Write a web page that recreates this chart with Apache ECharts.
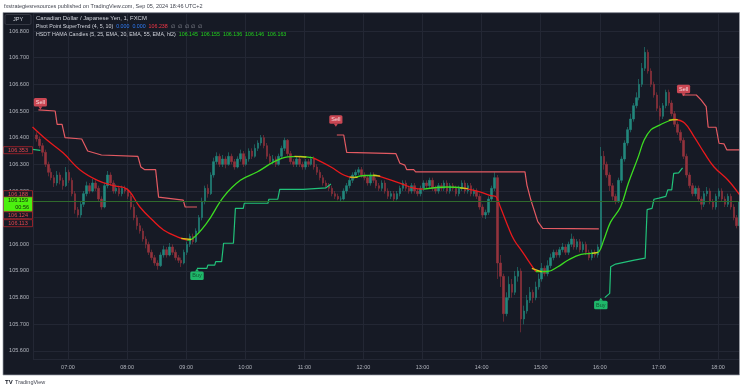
<!DOCTYPE html>
<html><head><meta charset="utf-8">
<script src="https://cdn.jsdelivr.net/npm/echarts@6/dist/echarts.min.js"></script>
<style>html,body{margin:0;padding:0;background:#fff;}#c{width:743px;height:390px;}</style>
</head><body><div id="c"></div>
<script>
// ---------- DATA ----------
const barStart = '06:27';   // first 3-minute bar
const barStepMin = 3;
const opens = [
106.41,106.395,106.37,106.345,106.30,106.27,106.25,106.23,106.26,106.24,
106.22,106.27,106.24,106.19,106.13,106.11,106.15,106.19,106.22,106.20,
106.23,106.21,106.17,106.14,106.22,106.26,106.23,106.20,106.21,106.19,
106.21,106.20,106.18,106.14,106.10,106.07,106.05,106.02,106.00,105.97,
105.95,105.93,105.92,105.96,105.98,105.96,105.99,105.97,105.95,105.94,
105.93,105.97,106.00,106.03,106.01,106.05,106.10,106.16,106.21,106.19,
106.26,106.31,106.33,106.30,106.32,106.30,106.33,106.31,106.29,106.32,
106.34,106.30,106.32,106.35,106.33,106.36,106.38,106.40,106.37,106.33,
106.31,106.32,106.30,106.33,106.36,106.39,106.34,106.31,106.30,106.32,
106.30,106.29,106.31,106.30,106.32,106.29,106.27,106.25,106.23,106.22,
106.21,106.19,106.18,106.17,106.17,106.20,106.22,106.24,106.26,106.27,
106.28,106.26,106.25,106.23,106.26,106.24,106.22,106.21,106.23,106.20,
106.18,106.19,106.17,106.19,106.21,106.23,106.21,106.20,106.22,106.20,
106.19,106.21,106.23,106.22,106.24,106.21,106.20,106.22,106.21,106.23,
106.20,106.22,106.21,106.19,106.21,106.23,106.20,106.22,106.19,106.20,
106.18,106.14,106.11,106.12,106.17,106.21,106.25,105.93,105.88,105.74,
105.80,105.85,105.82,105.88,105.90,105.72,105.75,105.79,105.82,105.80,
105.84,105.87,105.91,105.89,105.92,105.95,105.97,105.96,105.98,105.99,
105.97,106.00,106.02,105.99,106.01,105.98,106.00,105.97,105.95,105.97,
105.96,105.99,106.33,106.30,106.26,106.22,106.18,106.16,106.24,106.32,
106.38,106.43,106.47,106.52,106.55,106.60,106.66,106.72,106.65,106.60,
106.56,106.51,106.48,106.52,106.57,106.53,106.49,106.45,106.42,106.39,
106.33,106.26,106.22,106.19,106.21,106.17,106.15,106.19,106.20,106.16,
106.14,106.18,106.20,106.17,106.15,106.18,106.14,106.10,106.07];
const closes = [
106.395,106.37,106.345,106.30,106.27,106.25,106.23,106.26,106.24,106.22,
106.27,106.24,106.19,106.13,106.11,106.15,106.19,106.22,106.20,106.23,
106.21,106.17,106.14,106.22,106.26,106.23,106.20,106.21,106.19,106.21,
106.20,106.18,106.14,106.10,106.07,106.05,106.02,106.00,105.97,105.95,
105.93,105.92,105.96,105.98,105.96,105.99,105.97,105.95,105.94,105.93,
105.97,106.00,106.03,106.01,106.05,106.10,106.16,106.21,106.19,106.26,
106.31,106.33,106.30,106.32,106.30,106.33,106.31,106.29,106.32,106.34,
106.30,106.32,106.35,106.33,106.36,106.38,106.40,106.37,106.33,106.31,
106.32,106.30,106.33,106.36,106.39,106.34,106.31,106.30,106.32,106.30,
106.29,106.31,106.30,106.32,106.29,106.27,106.25,106.23,106.22,106.21,
106.19,106.18,106.17,106.17,106.20,106.22,106.24,106.26,106.27,106.28,
106.26,106.25,106.23,106.26,106.24,106.22,106.21,106.23,106.20,106.18,
106.19,106.17,106.19,106.21,106.23,106.21,106.20,106.22,106.20,106.19,
106.21,106.23,106.22,106.24,106.21,106.20,106.22,106.21,106.23,106.20,
106.22,106.21,106.19,106.21,106.23,106.20,106.22,106.19,106.20,106.18,
106.14,106.11,106.12,106.17,106.21,106.25,105.93,105.88,105.74,105.80,
105.85,105.82,105.88,105.90,105.72,105.75,105.79,105.82,105.80,105.84,
105.87,105.91,105.89,105.92,105.95,105.97,105.96,105.98,105.99,105.97,
106.00,106.02,105.99,106.01,105.98,106.00,105.97,105.95,105.97,105.96,
105.99,106.33,106.30,106.26,106.22,106.18,106.16,106.24,106.32,106.38,
106.43,106.47,106.52,106.55,106.60,106.66,106.72,106.65,106.60,106.56,
106.51,106.48,106.52,106.57,106.53,106.49,106.45,106.42,106.39,106.33,
106.26,106.22,106.19,106.21,106.17,106.15,106.19,106.20,106.16,106.14,
106.18,106.20,106.17,106.15,106.18,106.14,106.10,106.07,106.159];
const highs = [
106.42,106.405,106.38,106.355,106.31,106.285,106.26,106.275,106.27,106.25,
106.29,106.28,106.25,106.20,106.14,106.16,106.20,106.235,106.23,106.245,
106.24,106.22,106.18,106.23,106.275,106.27,106.24,106.225,106.22,106.22,
106.22,106.21,106.19,106.15,106.11,106.08,106.06,106.03,106.01,105.98,
105.96,105.94,105.97,105.995,105.99,106.005,106.00,105.98,105.96,105.95,
105.98,106.01,106.04,106.04,106.06,106.11,106.175,106.22,106.225,106.27,
106.325,106.345,106.34,106.335,106.33,106.345,106.34,106.32,106.33,106.355,
106.35,106.33,106.36,106.36,106.375,106.39,106.41,106.41,106.38,106.34,
106.335,106.33,106.34,106.37,106.40,106.395,106.35,106.32,106.33,106.33,
106.31,106.32,106.32,106.33,106.33,106.30,106.28,106.26,106.24,106.23,
106.22,106.20,106.19,106.18,106.21,106.23,106.25,106.27,106.28,106.29,
106.29,106.27,106.26,106.27,106.27,106.25,106.23,106.24,106.24,106.21,
106.20,106.20,106.20,106.22,106.24,106.24,106.22,106.23,106.23,106.21,
106.22,106.24,106.24,106.25,106.25,106.22,106.23,106.23,106.24,106.24,
106.23,106.23,106.22,106.22,106.24,106.24,106.23,106.23,106.21,106.21,
106.19,106.15,106.13,106.18,106.22,106.27,106.26,105.96,105.89,105.82,
105.88,105.87,105.90,105.915,105.91,105.77,105.81,105.84,105.83,105.86,
105.89,105.93,105.92,105.94,105.965,105.98,105.98,105.99,106.005,106.00,
106.01,106.04,106.03,106.02,106.02,106.01,106.01,105.98,105.98,105.98,
106.00,106.365,106.35,106.31,106.27,106.23,106.19,106.25,106.33,106.39,
106.44,106.49,106.53,106.57,106.62,106.68,106.74,106.73,106.66,106.61,
106.57,106.52,106.53,106.58,106.58,106.54,106.50,106.46,106.43,106.40,
106.34,106.27,106.23,106.22,106.22,106.18,106.20,106.215,106.21,106.17,
106.19,106.21,106.21,106.18,106.19,106.19,106.15,106.11,106.165];
const lows = [
106.385,106.36,106.33,106.29,106.255,106.24,106.215,106.22,106.225,106.205,
106.215,106.23,106.18,106.115,106.10,106.10,106.14,106.18,106.19,106.195,
106.20,106.16,106.13,106.135,106.21,106.22,106.19,106.19,106.18,106.18,
106.19,106.17,106.13,106.09,106.055,106.04,106.01,105.985,105.96,105.94,
105.92,105.905,105.915,105.95,105.95,105.955,105.96,105.94,105.93,105.915,
105.925,105.96,105.99,106.00,106.005,106.04,106.09,106.15,106.175,106.185,
106.25,106.30,106.29,106.29,106.285,106.295,106.30,106.28,106.285,106.31,
106.29,106.295,106.31,106.32,106.325,106.35,106.37,106.36,106.32,106.30,
106.30,106.29,106.295,106.32,106.35,106.33,106.30,106.29,106.29,106.29,
106.28,106.28,106.29,106.295,106.28,106.26,106.24,106.22,106.21,106.20,
106.18,106.17,106.165,106.16,106.165,106.19,106.21,106.23,106.25,106.26,
106.25,106.24,106.22,106.22,106.23,106.21,106.20,106.20,106.19,106.17,
106.17,106.16,106.165,106.18,106.20,106.20,106.19,106.19,106.19,106.18,
106.18,106.20,106.21,106.21,106.20,106.19,106.19,106.20,106.20,106.19,
106.19,106.20,106.18,106.18,106.20,106.19,106.19,106.18,106.18,106.17,
106.13,106.10,106.095,106.11,106.16,106.20,105.87,105.84,105.71,105.73,
105.79,105.80,105.81,105.86,105.67,105.70,105.74,105.78,105.78,105.79,
105.83,105.86,105.88,105.88,105.91,105.94,105.95,105.95,105.97,105.96,
105.96,105.99,105.98,105.98,105.97,105.97,105.96,105.94,105.94,105.95,
105.95,105.98,106.28,106.25,106.20,106.165,106.15,106.155,106.23,106.31,
106.37,106.42,106.46,106.51,106.54,106.59,106.65,106.64,106.59,106.55,
106.50,106.465,106.47,106.51,106.52,106.48,106.44,106.41,106.38,106.32,
106.25,106.21,106.18,106.18,106.16,106.13,106.14,106.18,106.15,106.13,
106.13,106.17,106.16,106.14,106.14,106.13,106.09,106.06,106.065];

// Pivot Point SuperTrend (stepped trailing line) segments
const stGreen0 = [['06:24',106.356],['06:32',106.352]];
const stRed1 = [['06:30',106.504],['06:47',106.50],['06:49',106.45],['06:54',106.45],['06:57',106.40],['07:14',106.395],['07:20',106.35],['07:34',106.335],['08:11',106.33],['08:14',106.29],['08:18',106.28],['08:29',106.28],['08:32',106.177],['08:57',106.166],['08:59',106.14],['09:11',106.14]];
const stGreen1 = [['09:11',105.91],['09:21',105.91],['09:22',105.922],['09:29',105.922],['09:30',105.935],['09:36',105.935],['09:38',106.004],['09:48',106.004],['09:50',106.135],['09:58',106.135],['09:59',106.154],['10:23',106.154],['10:24',106.169],['10:33',106.169],['10:35',106.206],['10:59',106.206],['11:00',106.212],['11:22',106.212],['11:27',106.226]];
const stRed2 = [['11:33',106.41],['11:40',106.41],['11:43',106.345],['12:33',106.34],['12:37',106.304],['12:42',106.297],['12:44',106.28],['12:51',106.28],['12:53',106.272],['14:44',106.272],['14:46',106.222],['14:50',106.166],['14:57',106.085],['15:02',106.06],['15:59',106.058]];
const stGreen2 = [['16:05',105.80],['16:10',105.816],['16:11',105.916],['16:16',105.926],['16:35',105.941],['16:37',105.948],['16:46',105.948],['16:48',106.13],['16:53',106.135],['16:55',106.169],['17:00',106.173],['17:02',106.18],['17:07',106.18],['17:09',106.204],['17:13',106.204],['17:15',106.266],['17:20',106.268],['17:24',106.287]];
const stRed3 = [['17:24',106.56],['17:38',106.56],['17:43',106.541],['17:48',106.516],['17:50',106.439],['17:58',106.439],['18:01',106.379],['18:06',106.377],['18:09',106.354],['18:22',106.354]];
const sellSignals = [['06:32',106.50],['11:32',106.435],['17:25',106.55]];
const buySignals = [['09:11',105.915],['16:01',105.805]];

// HSDT HAMA line segments (falling = red, rising = green, turning = yellow)
const hamaRed1 = [['06:24',106.44],['06:39',106.39],['06:55',106.343],['07:12',106.28],['07:30',106.24],['07:46',106.22],['08:00',106.207],['08:13',106.14],['08:26',106.09],['08:37',106.054],['08:51',106.028],['09:01',106.016]];
const hamaGreen1 = [['09:01',106.016],['09:06',106.02],['09:21',106.08],['09:38',106.178],['09:55',106.24],['10:12',106.271],['10:29',106.309],['10:43',106.328],['10:56',106.33],['11:09',106.324]];
const hamaRed2 = [['11:09',106.324],['11:27',106.29],['11:40',106.26],['11:50',106.249]];
const hamaGreen2 = [['11:50',106.249],['12:02',106.258],['12:14',106.258]];
const hamaRed3 = [['12:14',106.258],['12:28',106.241],['12:40',106.225],['12:51',106.211],['13:01',106.207]];
const hamaGreen3 = [['13:01',106.207],['13:25',106.215],['13:42',106.211]];
const hamaRed4 = [['13:42',106.211],['13:59',106.196],['14:09',106.183],['14:14',106.18],['14:19',106.14],['14:27',106.065],['14:33',106.016],['14:40',105.979],['14:47',105.941],['14:55',105.898]];
const hamaGreen4 = [['14:55',105.898],['15:07',105.898],['15:17',105.915],['15:28',105.941],['15:41',105.962],['15:54',105.967],['15:59',105.972],['16:04',106.016],['16:11',106.084],['16:21',106.14],['16:29',106.23],['16:39',106.328],['16:45',106.391],['16:52',106.43],['16:59',106.444],['17:05',106.455],['17:15',106.47]];
const hamaRed5 = [['17:15',106.47],['17:26',106.455],['17:36',106.402],['17:46',106.343],['17:56',106.29],['18:10',106.241],['18:22',106.185]];
const hamaTurns = [
  [['08:55',106.022],['09:05',106.018]],
  [['10:50',106.33],['11:02',106.327]],
  [['11:46',106.252],['11:54',106.251]],
  [['12:10',106.259],['12:17',106.256]],
  [['13:38',106.212],['13:46',106.209]],
  [['14:51',105.91],['15:01',105.897]],
  [['15:52',105.966],['15:58',105.97]],
  [['17:10',106.466],['17:19',106.468]]
];

// Last-value tags on the price scale
const lastPrice = 106.159;
const lastPriceTimer = '00:56';
const tagValues = [106.353, 106.188, 106.124, 106.113];

// ---------- CHART ----------
const toMin = s => { const p = s.split(':'); return (+p[0]) * 60 + (+p[1]); };
const pad = n => (n < 10 ? '0' : '') + n;
const fmtTime = v => pad(Math.floor(v / 60)) + ':' + pad(Math.round(v % 60));
const pts = arr => arr.map(d => [toMin(d[0]), d[1]]);

const t0 = toMin(barStart);
const candleData = closes.map((c, i) => [t0 + i * barStepMin + 1, opens[i], c, lows[i], highs[i]]);

const BG = '#161a25';
const GRID = '#232734';
const AXT = '#b2b5be';
const UP = '#22877c', DOWN = '#93333d';
const ST_RED = '#e35a62', ST_GREEN = '#21c27a';
const H_RED = '#e8191c', H_GREEN = '#3cdc22', H_YEL = '#d8c41c';

function lineSeries(arr, color, width, smooth, z) {
  return { type: 'line', data: pts(arr), showSymbol: false, symbol: 'none', smooth: smooth || false,
    lineStyle: { color: color, width: width }, z: z || 4, silent: true, animation: false };
}

const chart = echarts.init(document.getElementById('c'), null, { renderer: 'canvas' });
const series = [
  { type: 'candlestick', data: candleData, encode: { x: 0, y: [1, 2, 3, 4] }, barWidth: 2, z: 2,
    itemStyle: { color: UP, color0: DOWN, borderColor: UP, borderColor0: DOWN, borderWidth: 0.6 },
    markLine: { silent: true, symbol: 'none', animation: false,
      lineStyle: { color: '#2f6a2c', width: 1, type: 'solid' }, label: { show: false },
      data: [{ yAxis: lastPrice }] } },
  lineSeries(stGreen0, ST_GREEN, 1.2), lineSeries(stRed1, ST_RED, 1.2), lineSeries(stGreen1, ST_GREEN, 1.2),
  lineSeries(stRed2, ST_RED, 1.2), lineSeries(stGreen2, ST_GREEN, 1.2), lineSeries(stRed3, ST_RED, 1.2),
  lineSeries(hamaRed1, H_RED, 1.3, 0.4), lineSeries(hamaGreen1, H_GREEN, 1.3, 0.4), lineSeries(hamaRed2, H_RED, 1.3, 0.4),
  lineSeries(hamaGreen2, H_GREEN, 1.3, 0.4), lineSeries(hamaRed3, H_RED, 1.3, 0.4), lineSeries(hamaGreen3, H_GREEN, 1.3, 0.4),
  lineSeries(hamaRed4, H_RED, 1.3, 0.4), lineSeries(hamaGreen4, H_GREEN, 1.3, 0.4), lineSeries(hamaRed5, H_RED, 1.3, 0.4)
];
hamaTurns.forEach(seg => series.push(lineSeries(seg, H_YEL, 1.3, 0.4, 5)));
series.push(
  { type: 'scatter', data: pts(sellSignals), symbol: 'triangle', symbolRotate: 180, symbolSize: [4, 3], symbolOffset: [0, -3],
    itemStyle: { color: '#f7525f' }, z: 6, silent: true,
    label: { show: true, position: 'top', distance: 0, formatter: 'Sell', color: '#fff', fontSize: 5.5,
      fontFamily: 'Liberation Sans', backgroundColor: '#f7525f', padding: [1.5, 2, 1, 2], borderRadius: 1.5 } },
  { type: 'scatter', data: pts(buySignals), symbol: 'triangle', symbolSize: [4, 3], symbolOffset: [0, 3],
    itemStyle: { color: '#22e07c' }, z: 6, silent: true,
    label: { show: true, position: 'bottom', distance: 0, formatter: 'Buy', color: '#0e3d22', fontSize: 5.5,
      fontFamily: 'Liberation Sans', backgroundColor: '#22e07c', padding: [1.5, 2, 1, 2], borderRadius: 1.5 } }
);

const option = {
  backgroundColor: BG,
  animation: false,
  grid: { left: 33, right: 4, top: 13, bottom: 31, containLabel: false },
  xAxis: {
    type: 'value', min: 384.5, max: 1101.3, minInterval: 60, maxInterval: 60,
    axisLine: { show: false }, axisTick: { show: false },
    splitLine: { show: true, lineStyle: { color: GRID, width: 1 } },
    axisLabel: { color: AXT, fontSize: 5.5, fontFamily: 'Liberation Sans', margin: 5,
      showMinLabel: false, showMaxLabel: false, formatter: fmtTime }
  },
  yAxis: {
    type: 'value', position: 'left', min: 105.5699, max: 106.8675, minInterval: 0.1, maxInterval: 0.1,
    axisLine: { show: false }, axisTick: { show: false },
    splitLine: { show: true, lineStyle: { color: GRID, width: 1 } },
    axisLabel: { color: AXT, fontSize: 5.5, fontFamily: 'Liberation Sans', margin: 4,
      showMinLabel: false, showMaxLabel: false, formatter: v => v.toFixed(3) }
  },
  series: series
};
chart.setOption(option);

// tags on the price scale, placed through the y scale
const yPix = v => chart.convertToPixel({ yAxisIndex: 0 }, v);
const tagNudge = [0, 0, 4, 9];
const gfx = [];
tagValues.forEach((v, i) => {
  const y = yPix(v) + tagNudge[i];
  gfx.push({ type: 'rect', shape: { x: 3.5, y: y - 3.5, width: 29, height: 7 }, z: 50,
    style: { fill: BG, stroke: '#b3242c', lineWidth: 0.8 } });
  gfx.push({ type: 'text', x: 18, y: y, z: 51, style: { text: v.toFixed(3), fill: '#e8474f', fontSize: 5.5,
    fontFamily: 'Liberation Sans', align: 'center', verticalAlign: 'middle' } });
});
{
  const y = yPix(lastPrice) + 2;
  gfx.push({ type: 'rect', shape: { x: 3.5, y: y - 7, width: 29, height: 14.5 }, z: 52,
    style: { fill: '#4cf00f', stroke: '#b3242c', lineWidth: 0.6 } });
  gfx.push({ type: 'text', x: 18, y: y - 3.2, z: 53, style: { text: lastPrice.toFixed(3), fill: '#10220a', fontSize: 5.5,
    fontFamily: 'Liberation Sans', align: 'center', verticalAlign: 'middle' } });
  gfx.push({ type: 'text', x: 29, y: y + 3.4, z: 53, style: { text: lastPriceTimer, fill: '#10220a', fontSize: 5.5,
    fontFamily: 'Liberation Sans', align: 'right', verticalAlign: 'middle' } });
}
// page frame (white outside the dark panel)
gfx.push({ type: 'rect', shape: { x: 0, y: 0, width: 743, height: 12.5 }, z: 90, style: { fill: '#fff' } });
gfx.push({ type: 'rect', shape: { x: 0, y: 375, width: 743, height: 15 }, z: 90, style: { fill: '#fff' } });
gfx.push({ type: 'rect', shape: { x: 0, y: 0, width: 3, height: 390 }, z: 90, style: { fill: '#fff' } });
gfx.push({ type: 'rect', shape: { x: 739.5, y: 0, width: 4, height: 390 }, z: 90, style: { fill: '#fff' } });
gfx.push({ type: 'rect', shape: { x: 3, y: 12.5, width: 736.5, height: 362.5 }, z: 91,
  style: { fill: 'none', stroke: '#9a9da6', lineWidth: 0.7 } });
// header and footer texts
gfx.push({ type: 'text', x: 4, y: 6.5, z: 95, style: { text: 'fxstrategiesresources published on TradingView.com, Sep 05, 2024 18:46 UTC+2',
  fill: '#434651', fontSize: 5.5, fontFamily: 'Liberation Sans', verticalAlign: 'middle' } });
gfx.push({ type: 'rect', shape: { x: 5, y: 14.5, width: 26, height: 10, r: 1.5 }, z: 95,
  style: { fill: BG, stroke: '#434651', lineWidth: 0.7 } });
gfx.push({ type: 'text', x: 18, y: 19.6, z: 96, style: { text: 'JPY', fill: '#d1d4dc', fontSize: 5.5,
  fontFamily: 'Liberation Sans', align: 'center', verticalAlign: 'middle' } });
const LEG = { fontFamily: 'Liberation Sans', verticalAlign: 'middle' };
gfx.push({ type: 'text', x: 36, y: 18, z: 95, style: Object.assign({ text: 'Canadian Dollar / Japanese Yen, 1, FXCM', fill: '#d1d4dc', fontSize: 5.9 }, LEG) });
gfx.push({ type: 'text', x: 36, y: 26.5, z: 95, style: Object.assign({
  text: '{a|Pivot Point SuperTrend (4, 5, 10)}  {b|0.000}  {b|0.000}  {c|106.238}  {d|∅  ∅  ∅  ∅  ∅}', fontSize: 5.3,
  rich: { a: { fill: '#d1d4dc', fontSize: 5.3 }, b: { fill: '#2f7cf6', fontSize: 5.3 }, c: { fill: '#f23645', fontSize: 5.3 }, d: { fill: '#9598a1', fontSize: 5.3 } } }, LEG) });
gfx.push({ type: 'text', x: 36, y: 34.5, z: 95, style: Object.assign({
  text: '{a|HSDT HAMA Candles (5, 25, EMA, 20, EMA, 55, EMA, hl2)}  {g|106.145}  {g|106.155}  {g|106.136}  {g|106.146}  {g|106.163}', fontSize: 5.3,
  rich: { a: { fill: '#d1d4dc', fontSize: 5.3 }, g: { fill: '#22d31d', fontSize: 5.3 } } }, LEG) });
gfx.push({ type: 'text', x: 5, y: 382, z: 95, style: { text: 'TV', fill: '#131722', fontSize: 6, fontWeight: 'bold',
  fontFamily: 'Liberation Sans', verticalAlign: 'middle' } });
gfx.push({ type: 'text', x: 15, y: 382, z: 95, style: { text: 'TradingView', fill: '#434651', fontSize: 5.5,
  fontFamily: 'Liberation Sans', verticalAlign: 'middle' } });
chart.setOption({ graphic: { elements: gfx } });
</script></body></html>
